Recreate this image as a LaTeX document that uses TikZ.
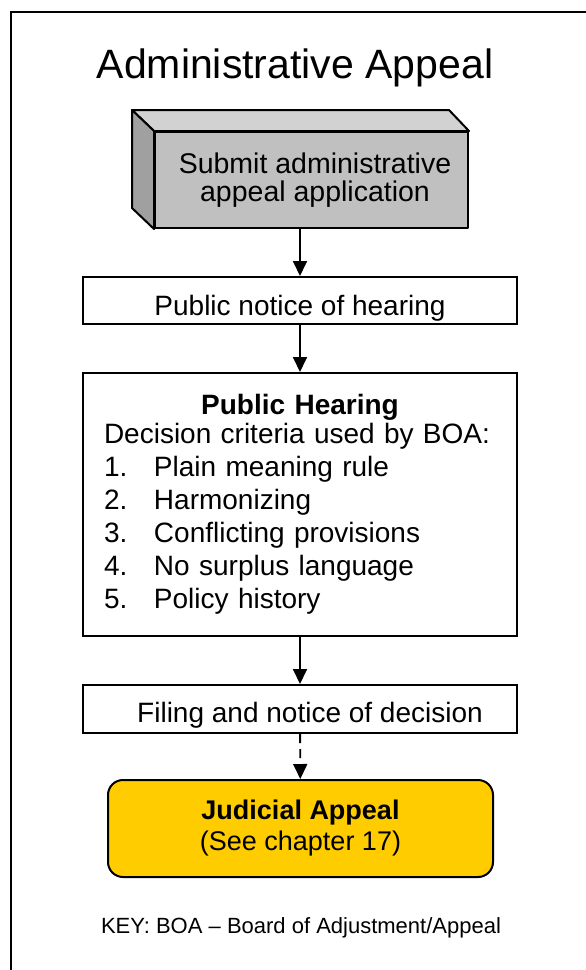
\documentclass[tikz,border=0pt]{standalone}
\usepackage{fontspec}
\setmainfont{Liberation Sans}
\usetikzlibrary{arrows.meta}

\definecolor{cubefront}{HTML}{C0C0C0}
\definecolor{cubetop}{HTML}{D2D2D2}
\definecolor{cubeside}{HTML}{A0A0A0}
\definecolor{appealgold}{HTML}{FFCC00}

\begin{document}
\begin{tikzpicture}[x=1pt,y=-1pt,
  stepbox/.style={draw, line width=2pt, fill=white, minimum width=434pt, inner sep=0pt},
  flow/.style={line width=1.8pt, -{Triangle[length=15pt,width=14pt]}},
  body/.style={font=\fontsize{28}{33}\selectfont},
  cubeface/.style={draw, line width=2pt, line join=round},
]
\useasboundingbox (0,0) rectangle (586,970);

% page frame (top and left rules)
\draw[line width=2pt] (586,12) -- (11,12) -- (11,970);

% heading
\node[anchor=base, font=\fontsize{41}{47}\selectfont] (title) at (295,78) {Administrative Appeal};

% raised block: front face carries the text
\node[cubeface, fill=cubefront, minimum width=313pt, minimum height=96pt, inner sep=0pt,
      align=center, font=\fontsize{28.5}{28}\selectfont] (submit) at (311.5,180)
  {\hspace*{7pt}Submit administrative\\\hspace*{7pt}appeal application};
\draw[cubeface, fill=cubetop] (submit.north west) -- ++(-22,-21)
  -- ([xshift=-20pt,yshift=21pt]submit.north east) -- (submit.north east) -- cycle;
\draw[cubeface, fill=cubeside] (submit.north west) -- ++(-22,-21)
  -- ([xshift=-22pt,yshift=21pt]submit.south west) -- (submit.south west) -- cycle;

% flow steps
\node[stepbox, body, text height=38pt, text depth=9pt] (notice) at (300,300.5)
  {Public notice of hearing};

\node[stepbox, body, minimum height=263pt, text width=392pt, inner xsep=21pt, align=left]
  (hearing) at (300,504.5)
  {\makebox[392pt]{\textbf{Public Hearing}}\\[-4pt]
   Decision criteria used by BOA:\\
   \makebox[50pt][l]{1.}Plain meaning rule\\
   \makebox[50pt][l]{2.}Harmonizing\\
   \makebox[50pt][l]{3.}Conflicting provisions\\
   \makebox[50pt][l]{4.}No surplus language\\
   \makebox[50pt][l]{5.}Policy history};

\node[stepbox, body, text height=37pt, text depth=11pt] (filing) at (300,709)
  {\hspace*{20pt}Filing and notice of decision};

\node[draw, line width=2pt, fill=appealgold, rounded corners=15pt, minimum width=385pt,
      minimum height=97pt, align=center, font=\fontsize{27}{31}\selectfont]
  (judicial) at (300.5,828.5) {\textbf{Judicial Appeal}\\(See chapter 17)};

% legend
\node[anchor=base, font=\fontsize{22}{26}\selectfont] (key) at (301,933)
  {KEY: BOA -- Board of Adjustment/Appeal};

% connectors
\draw[flow] (submit.south -| notice.north) -- (notice.north);
\draw[flow] (notice) -- (hearing);
\draw[flow] (hearing) -- (filing);
\draw[flow, dash pattern=on 9pt off 6pt] (filing) -- (judicial);
\end{tikzpicture}
\end{document}
